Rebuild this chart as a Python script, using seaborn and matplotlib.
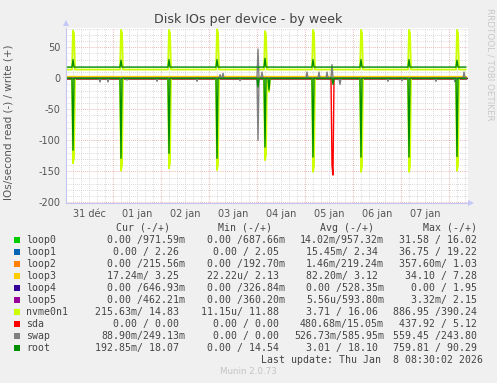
import numpy as np
import pandas as pd
import matplotlib
matplotlib.use("Agg")
import matplotlib.pyplot as plt
from matplotlib.patches import Rectangle, Polygon
import seaborn as sns

# ---------------- data ----------------
devices = ['loop0', 'loop1', 'loop2', 'loop3', 'loop4', 'loop5',
           'nvme0n1', 'sda', 'swap', 'root']
colors = ['#00CC00', '#0066B3', '#FF8000', '#FFCC00', '#330099', '#990099',
          '#CCFF00', '#FF0000', '#808080', '#008F00']

# time axis: hours since 31 Dec 00:00, 30-minute samples up to 8 Jan 08:30
t_start, t_end, t_step = 0.5, 200.5, 0.5

# typical (baseline) write rates, read rates are ~0
write_base = [0.95, 2.3, 0.22, 3.1, 0.53, 0.6, 14.0, 0.0, 0.3, 18.0]
read_base = [0, 0, 0, 0, 0, 0, 0, 0, 0, 0]

# daily 04:00 bursts (two consecutive samples for nvme0n1)
daily_h = [4, 28, 52, 76, 100, 124, 148, 172, 196]
daily_h2 = [4.5, 28.5, 52.5, 76.5, 100.5, 124.5, 148.5, 172.5, 196.5]
nvme_write_spike = [77, 78, 78, 79, 76, 78, 78, 78, 78]
nvme_write_spike2 = [72, 73, 73, 74, 70, 73, 73, 73, 73]
nvme_read_spike = [-137, -149, -145, -148, -132, -151, -151, -151, -149]
nvme_read_spike2 = [-128, -140, -136, -139, -124, -142, -142, -142, -140]
root_write_spike = [30, 29, 30, 30, 32, 30, 30, 30, 29]
root_read_spike = [-116, -129, -121, -129, -111, -127, -127, -127, -126]

# other events
nvme_read_extra_h = [102]
nvme_read_extra_v = [-22]
root_read_extra_h = [96.5, 102, 134]
root_read_extra_v = [-14, -19, -10]
swap_read_h = [17.5, 21.5, 31, 46, 66, 87.5, 96.5, 137.5, 161.5, 168.5, 185.5, 195]
swap_read_v = [-6, -6, -3, -5, -5, -4, -100, -10, -5, -4, -5, -6]
swap_write_h = [77.5, 79, 96.5, 98.5, 121, 127, 131, 133.5, 199.5]
swap_write_v = [6, 8, 47, 10, 10, 10, 10, 22, 10]
sda_read_h = [133.5, 134]
sda_read_v = [-140, -156]

day_labels = ['31 déc', '01 jan', '02 jan', '03 jan', '04 jan', '05 jan', '06 jan', '07 jan']
day_label_h = [12, 36, 60, 84, 108, 132, 156, 180]
midnight_h = [24, 48, 72, 96, 120, 144, 168, 192]
y_major = [-200, -150, -100, -50, 0, 50]

cur_col = ['0.00 /971.59m', '0.00 / 2.26', '0.00 /215.56m', '17.24m/ 3.25', '0.00 /646.93m',
           '0.00 /462.21m', '215.63m/ 14.83', '0.00 / 0.00', '88.90m/249.13m', '192.85m/ 18.07']
min_col = ['0.00 /687.66m', '0.00 / 2.05', '0.00 /192.70m', '22.22u/ 2.13', '0.00 /326.84m',
           '0.00 /360.20m', '11.15u/ 11.88', '0.00 / 0.00', '0.00 / 0.00', '0.00 / 14.54']
avg_col = ['14.02m/957.32m', '15.45m/ 2.34', '1.46m/219.24m', '82.20m/ 3.12', '0.00 /528.35m',
           '5.56u/593.80m', '3.71 / 16.06', '480.68m/15.05m', '526.73m/585.95m', '3.01 / 18.10']
max_col = ['31.58 / 16.02', '36.75 / 19.22', '357.60m/ 1.03', '34.10 / 7.28', '0.00 / 1.95',
           '3.32m/ 2.15', '886.95 /390.24', '437.92 / 5.12', '559.45 /243.80', '759.81 / 90.29']
headers = ['Cur (-/+)', 'Min (-/+)', 'Avg (-/+)', 'Max (-/+)']
last_update = 'Last update: Thu Jan  8 08:30:02 2026'

# ---------------- build series ----------------
t = np.arange(t_start, t_end + t_step / 2, t_step)


def idx(h):
    return int(round((h - t_start) / t_step))


writes = {d: np.full(len(t), float(b)) for d, b in zip(devices, write_base)}
reads = {d: np.full(len(t), float(b)) for d, b in zip(devices, read_base)}


def put(arr, hs, vs):
    for h, v in zip(hs, vs):
        arr[idx(h)] = v


put(writes['nvme0n1'], daily_h, nvme_write_spike)
put(writes['nvme0n1'], daily_h2, nvme_write_spike2)
put(reads['nvme0n1'], daily_h, nvme_read_spike)
put(reads['nvme0n1'], daily_h2, nvme_read_spike2)
put(reads['nvme0n1'], nvme_read_extra_h, nvme_read_extra_v)
put(writes['root'], daily_h, root_write_spike)
put(reads['root'], daily_h, root_read_spike)
put(reads['root'], root_read_extra_h, root_read_extra_v)
put(reads['swap'], swap_read_h, swap_read_v)
put(writes['swap'], swap_write_h, swap_write_v)
put(reads['sda'], sda_read_h, sda_read_v)

# ---------------- figure ----------------
sns.set_theme(style='white')
plt.rcParams['font.family'] = ['DejaVu Sans']
plt.rcParams['axes.unicode_minus'] = False

W, H = 497, 383
fig = plt.figure(figsize=(W / 100, H / 100), dpi=100, facecolor='#F0F0F0')


def fx(px):
    return px / W


def fy(py):
    return 1 - py / H


L, R, T, B = 66, 468, 28, 203
ax = fig.add_axes([fx(L), fy(B), fx(R) - fx(L), fy(T) - fy(B)])
ax.set_facecolor('white')
ax.set_xlim(0.5, 201.5)
ax.set_ylim(-201, 81)

# grid
for y in range(-200, 81, 10):
    if y % 50 == 0:
        continue
    ax.axhline(y, color='#cccccc', lw=0.6, dashes=(1, 1.5), zorder=0)
for h in np.arange(4, 201.5, 4):
    if h % 24 == 0:
        continue
    ax.axvline(h, color='#cccccc', lw=0.6, dashes=(1, 1.5), zorder=0)
for y in y_major:
    ax.axhline(y, color='#e6a0a0', lw=0.6, dashes=(1, 1.5), zorder=0.5)
for h in midnight_h:
    ax.axvline(h, color='#e6a0a0', lw=0.6, dashes=(1, 1.5), zorder=0.5)

ax.axhline(0, color='black', lw=1.0, zorder=1)

for d, c in zip(devices, colors):
    lw = 1.3 if d == 'nvme0n1' else 1.0
    sns.lineplot(x=t, y=writes[d], color=c, lw=lw, ax=ax, zorder=2)
    sns.lineplot(x=t, y=reads[d], color=c, lw=lw, ax=ax, zorder=2)

# axes styling
for s in ['top', 'right']:
    ax.spines[s].set_visible(False)
ax.spines['left'].set_color('#c4c8f0')
ax.spines['bottom'].set_color('#c4c8f0')
ax.spines['left'].set_linewidth(0.8)
ax.spines['bottom'].set_linewidth(0.8)

ax.set_yticks(y_major)
ax.set_yticklabels([str(v) for v in y_major])
ax.set_xticks(day_label_h)
ax.set_xticklabels(day_labels)
ax.tick_params(axis='both', length=0, labelsize=7, colors='#555555', pad=4)
ax.set_xlabel('')
ax.set_ylabel('')

# axis arrows
fig.add_artist(Polygon([[fx(63), fy(26)], [fx(69), fy(26)], [fx(66), fy(20)]],
                       closed=True, transform=fig.transFigure, color='#c4c8f8', lw=0))
fig.add_artist(Polygon([[fx(468), fy(200)], [fx(468), fy(206)], [fx(474), fy(203)]],
                       closed=True, transform=fig.transFigure, color='#c4c8f8', lw=0))

# texts
fig.text(fx(248.5), fy(19), 'Disk IOs per device - by week', ha='center', va='center',
         fontsize=9.1, color='#444444')
fig.text(fx(9), fy(122), 'IOs/second read (-) / write (+)', ha='center', va='center',
         rotation=90, fontsize=7.5, color='#555555')
fig.text(fx(490), fy(8), 'RRDTOOL / TOBI OETIKER', ha='center', va='top',
         rotation=270, fontsize=6.3, color='#c8c8c8')

mono = 'DejaVu Sans Mono'
fs = 7.1
header_x = [116, 218, 320, 423]
for hx, hd in zip(header_x, headers):
    fig.text(fx(hx), fy(228), hd, ha='left', va='center', fontsize=fs, family=mono, color='#444444')

col_right = [185, 285, 384, 483]
for i, d in enumerate(devices):
    yy = 240 + 12 * i
    fig.add_artist(Rectangle((fx(14), fy(yy + 3)), fx(6), 6 / H, transform=fig.transFigure,
                             color=colors[i], lw=0))
    fig.text(fx(26), fy(yy), d, ha='left', va='center', fontsize=fs, family=mono, color='#444444')
    for col, xr in zip([cur_col, min_col, avg_col, max_col], col_right):
        s = col[i]
        xe = xr if s[-1].isalpha() else xr - 6
        fig.text(fx(xe), fy(yy), s, ha='right', va='center', fontsize=fs, family=mono,
                 color='#444444')

fig.text(fx(483), fy(360), last_update, ha='right', va='center', fontsize=fs, family=mono,
         color='#444444')
fig.text(fx(248), fy(372), 'Munin 2.0.73', ha='center', va='center', fontsize=6.3,
         color='#c4c4c4')

fig.savefig('out.png', dpi=100, facecolor=fig.get_facecolor())
